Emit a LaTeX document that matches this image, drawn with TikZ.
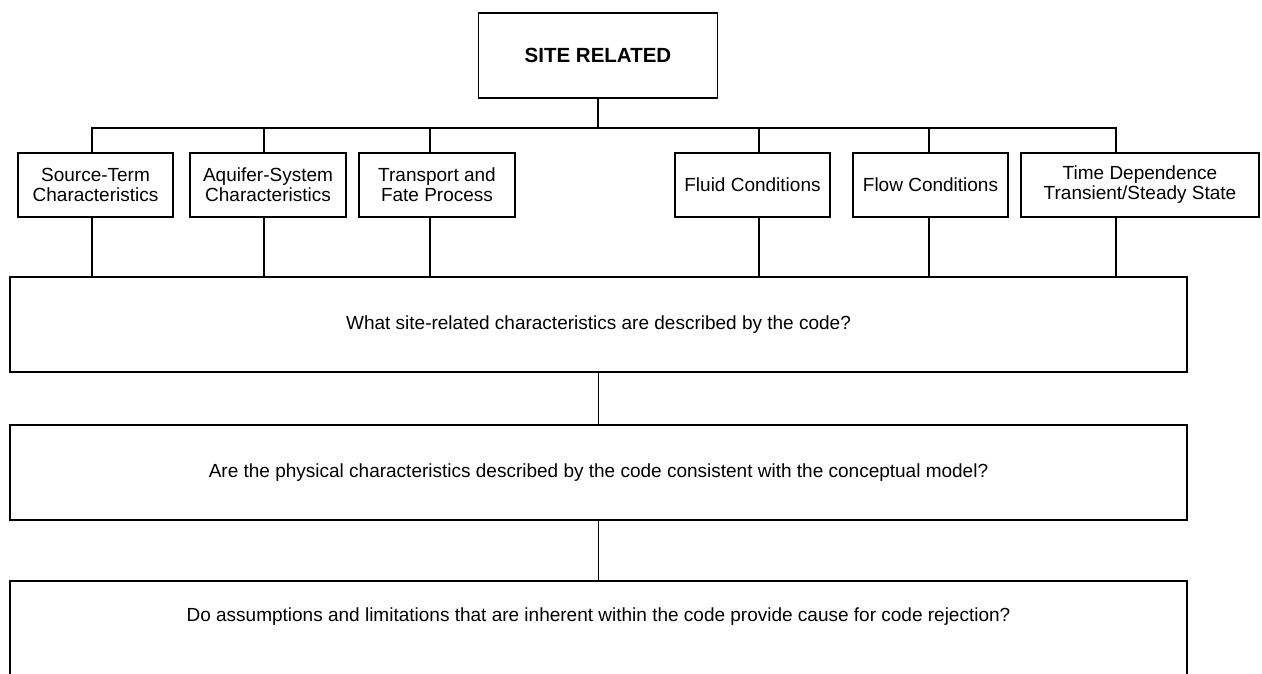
\documentclass[tikz,border=0pt]{standalone}
\usepackage{fontspec}
\setmainfont{Liberation Sans}
\usetikzlibrary{
	positioning,
	calc
}

\tikzset{
	box/.style={draw, line width=1.3pt, align=center, inner sep=2pt,
		font=\fontsize{19}{20}\selectfont},
	head/.style={box, minimum width=239pt, minimum height=85pt,
		font=\bfseries\fontsize{20.5}{22}\selectfont},
	item/.style={box, minimum width=155pt, minimum height=64pt},
	question/.style={box, minimum width=1177pt, minimum height=95pt},
	link/.style={line width=1.3pt}
}

\begin{document}
\begin{tikzpicture}[x=1pt,y=-1pt]
		\useasboundingbox (0,0) rectangle (1262,673);
		\clip (0,0) rectangle (1262,673);

		\node[head] (site) at (598,55.5) {SITE RELATED};
		\coordinate (bus) at (598,128);

		\node[item]                      (src)   at (95.5,185)  {Source-Term\\Characteristics};
		\node[item,minimum width=156pt]  (aqu)   at (268,185)   {Aquifer-System\\Characteristics};
		\node[item,minimum width=156pt]  (tfp)   at (437,185)   {Transport and\\Fate Process};
		\node[item]                      (fluid) at (752.5,185) {Fluid Conditions};
		\node[item]                      (flow)  at (930.5,185) {Flow Conditions};
		\node[item,minimum width=238pt]  (time)  at (1140,185)  {Time Dependence\\Transient/Steady State};

		\node[question]                  (q1) at (598.5,324.5) {What site-related characteristics are described by the code?};
		\node[question]                  (q2) at (598.5,472.5) {Are the physical characteristics described by the code consistent with the conceptual model?};
		\node[question,text depth=27pt]  (q3) at (598.5,628.5) {Do assumptions and limitations that are inherent within the code provide cause for code rejection?};

		\draw[link] (site) -- (bus);
		\foreach \n/\dx in {src/-3.5, aqu/-4, tfp/-7, fluid/6.5, flow/-1.5, time/-24} {
			\draw[link] ([xshift=\dx pt]\n.north) |- (bus);
			\draw[link] ([xshift=\dx pt]\n.south) -- ([xshift=\dx pt]\n.south |- q1.north);
		}
		\draw[link] (q1) -- (q2);
		\draw[link] (q2) -- (q3);
	\end{tikzpicture}
\end{document}
